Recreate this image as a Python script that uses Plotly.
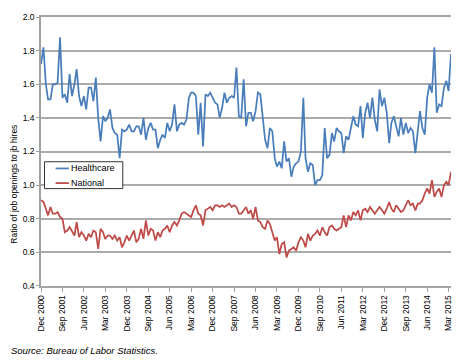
import pandas as pd
import plotly.graph_objects as go

START_MONTH = "2000-12-01"

HEALTHCARE = [
    1.72, 1.82, 1.60, 1.51, 1.51, 1.60, 1.60, 1.61, 1.88, 1.52,
    1.54, 1.49, 1.66, 1.53, 1.60, 1.69, 1.53, 1.47, 1.53, 1.45,
    1.58, 1.58, 1.50, 1.64, 1.40, 1.26, 1.41, 1.38, 1.40, 1.45,
    1.34, 1.31, 1.30, 1.16, 1.33, 1.32, 1.33, 1.36, 1.32, 1.32,
    1.35, 1.35, 1.30, 1.40, 1.27, 1.34, 1.37, 1.33, 1.33, 1.22,
    1.27, 1.30, 1.28, 1.37, 1.32, 1.36, 1.48, 1.32, 1.36, 1.37,
    1.36, 1.39, 1.52, 1.55, 1.55, 1.53, 1.30, 1.49, 1.23, 1.54,
    1.53, 1.55, 1.52, 1.49, 1.48, 1.40, 1.46, 1.55, 1.49, 1.52,
    1.53, 1.52, 1.70, 1.41, 1.40, 1.63, 1.35, 1.43, 1.43, 1.38,
    1.44, 1.55, 1.54, 1.39, 1.27, 1.22, 1.34, 1.32, 1.16, 1.11,
    1.14, 1.10, 1.26, 1.14, 1.16, 1.05, 1.11, 1.13, 1.14, 1.20,
    1.52, 1.16, 1.08, 1.13, 1.12, 1.00, 1.03, 1.03, 1.06, 1.34,
    1.16, 1.18, 1.31, 1.26, 1.34, 1.32, 1.31, 1.19, 1.29, 1.27,
    1.34, 1.41, 1.36, 1.35, 1.47, 1.28, 1.43, 1.49, 1.40, 1.52,
    1.39, 1.32, 1.57, 1.47, 1.52, 1.43, 1.25, 1.37, 1.41, 1.34,
    1.29, 1.40, 1.30, 1.37, 1.31, 1.34, 1.32, 1.19, 1.32, 1.44,
    1.34, 1.30, 1.52, 1.60, 1.55, 1.82, 1.43, 1.48, 1.47, 1.58,
    1.62, 1.56, 1.78,
]

NATIONAL = [
    0.91, 0.90, 0.86, 0.82, 0.87, 0.83, 0.83, 0.84, 0.81, 0.80,
    0.72, 0.73, 0.75, 0.72, 0.70, 0.78, 0.69, 0.72, 0.70, 0.67,
    0.71, 0.69, 0.73, 0.72, 0.62, 0.74, 0.72, 0.68, 0.70, 0.70,
    0.68, 0.70, 0.67, 0.69, 0.63, 0.66, 0.70, 0.67, 0.70, 0.73,
    0.66, 0.68, 0.74, 0.68, 0.79, 0.70, 0.74, 0.73, 0.67, 0.72,
    0.69, 0.73, 0.74, 0.76, 0.72, 0.76, 0.78, 0.76, 0.79, 0.83,
    0.84, 0.83, 0.82, 0.81, 0.85, 0.88, 0.83, 0.82, 0.76, 0.85,
    0.86, 0.87, 0.85, 0.88, 0.88, 0.87, 0.88, 0.87, 0.88, 0.89,
    0.87, 0.88, 0.87, 0.83, 0.83, 0.85, 0.87, 0.83, 0.85, 0.80,
    0.87, 0.79, 0.78, 0.75, 0.74, 0.79, 0.77, 0.72, 0.67, 0.69,
    0.59, 0.65, 0.66, 0.57, 0.61, 0.62, 0.63, 0.61, 0.66, 0.69,
    0.67, 0.63, 0.71, 0.67, 0.70, 0.71, 0.73, 0.70, 0.75, 0.72,
    0.70, 0.75, 0.76, 0.74, 0.73, 0.74, 0.75, 0.82, 0.75, 0.82,
    0.79, 0.84, 0.82, 0.85, 0.79, 0.85, 0.86, 0.84, 0.87, 0.85,
    0.83, 0.85, 0.87, 0.85, 0.83, 0.86, 0.90, 0.86, 0.84, 0.88,
    0.86, 0.84, 0.85, 0.88, 0.91, 0.88, 0.89, 0.85, 0.89, 0.89,
    0.91, 0.95, 0.98, 0.95, 1.03, 0.93, 0.96, 0.98, 0.93, 1.00,
    1.02, 1.00, 1.08,
]

SERIES_NAMES = ["Healthcare", "National"]
SERIES_COLORS = ["#4A7EBB", "#BE4B48"]

TICK_LABELS = [
    "Dec 2000", "Sep 2001", "Jun 2002", "Mar 2003", "Dec 2003", "Sep 2004",
    "Jun 2005", "Mar 2006", "Dec 2006", "Sep 2007", "Jun 2008", "Mar 2009",
    "Dec 2009", "Sep 2010", "Jun 2011", "Mar 2012", "Dec 2012", "Sep 2013",
    "Jun 2014", "Mar 2015",
]
Y_TICKS = [0.4, 0.6, 0.8, 1.0, 1.2, 1.4, 1.6, 1.8, 2.0]

months = pd.date_range(START_MONTH, periods=len(HEALTHCARE), freq="MS")
tick_dates = pd.to_datetime(TICK_LABELS, format="%b %Y")

FONT = "Liberation Sans, Arial, sans-serif"

fig = go.Figure()
for name, values, color in zip(SERIES_NAMES, [HEALTHCARE, NATIONAL], SERIES_COLORS):
    fig.add_trace(go.Scatter(x=months, y=values, mode="lines", name=name,
                             line=dict(color=color, width=1.75), showlegend=False))

# Legend box drawn as in the original (compact Excel-style key)
legend_shapes = [dict(type="rect", xref="paper", yref="paper",
                      x0=0.0085, x1=0.1995, y0=0.362, y1=0.462,
                      line=dict(color="#333333", width=1), fillcolor="white",
                      layer="above")]
legend_ann = []
for k, (name, color) in enumerate(zip(SERIES_NAMES, SERIES_COLORS)):
    yk = 0.437 - k * 0.0545
    legend_shapes.append(dict(type="line", xref="paper", yref="paper",
                              x0=0.0355, x1=0.068, y0=yk, y1=yk,
                              line=dict(color=color, width=1.75), layer="above"))
    legend_ann.append(dict(text=name, xref="paper", yref="paper", x=0.068, y=yk,
                           xanchor="left", yanchor="middle", showarrow=False,
                           font=dict(size=9, color="#000000")))

fig.update_layout(
    width=464, height=356,
    margin=dict(l=33, r=21, t=4, b=78),
    paper_bgcolor="white", plot_bgcolor="white",
    font=dict(family=FONT, color="#000000"),
    showlegend=False,
    xaxis=dict(
        type="date",
        range=[months[0], months[-1]],
        tickmode="array", tickvals=tick_dates, ticktext=TICK_LABELS,
        tickangle=-90, tickfont=dict(size=8.5, color="#000000"),
        ticks="outside", ticklen=4, tickcolor="#a0a0a0",
        showgrid=False, showline=True, linecolor="#a5a5a5", linewidth=1.5,
        mirror=True, zeroline=False,
    ),
    yaxis=dict(
        range=[0.3999, 2.0001], tickvals=Y_TICKS, tickformat=".1f",
        tickfont=dict(size=8.5, color="#000000"), ticklabeloverflow="allow",
        ticks="outside", ticklen=3, tickcolor="#a0a0a0",
        showgrid=True, gridcolor="#ababab", gridwidth=1.5,
        showline=True, linecolor="#a0a0a0", linewidth=1.5,
        zeroline=False,
    ),
    shapes=legend_shapes,
    annotations=legend_ann + [
        dict(text="Ratio of job openings to jb hires", xref="paper", yref="paper",
             x=-0.068, y=0.377, xanchor="center", yanchor="middle", textangle=-90,
             showarrow=False, font=dict(size=8.5, color="#000000")),
        dict(text="Source: Bureau of Labor Statistics.", xref="paper", yref="paper",
             x=-0.079, y=-0.240, xanchor="left", yanchor="middle", showarrow=False,
             font=dict(size=9.5, color="#000000", style="italic")),
    ],
)

fig.write_html("out.html")
